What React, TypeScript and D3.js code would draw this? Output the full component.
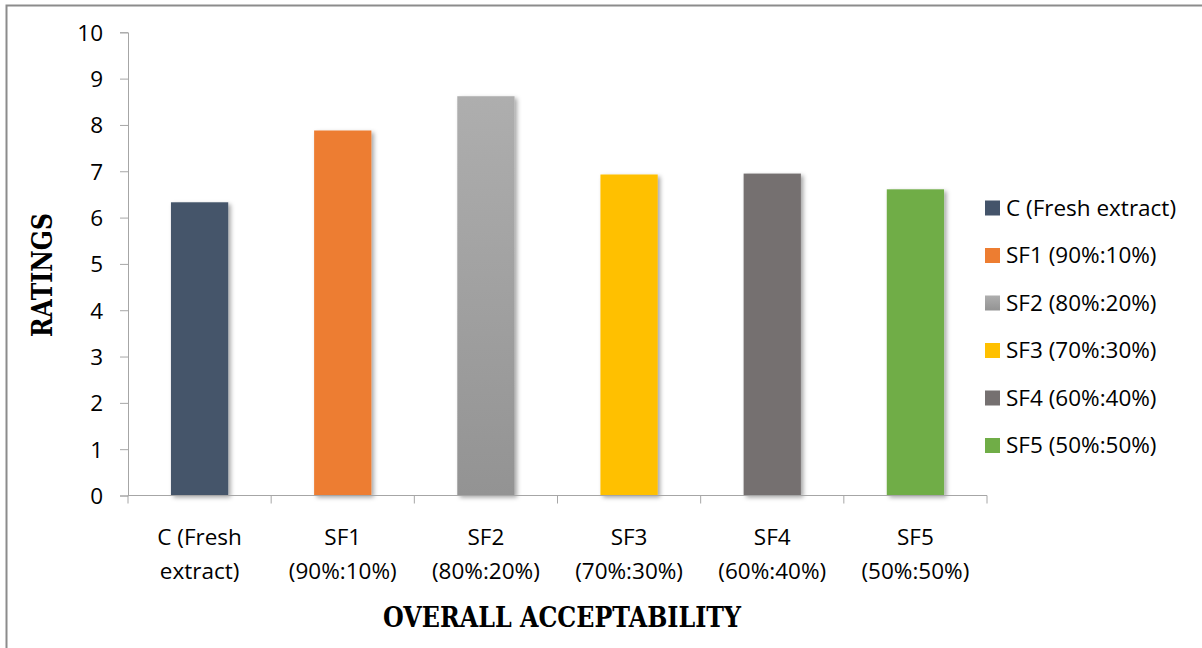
import React, { useEffect, useRef } from 'react';
import * as d3 from 'd3';

// chart data
const categories = ['C (Fresh extract)', 'SF1 (90%:10%)', 'SF2 (80%:20%)', 'SF3 (70%:30%)', 'SF4 (60%:40%)', 'SF5 (50%:50%)'];
const axisLabels = [['C (Fresh', 'extract)'], ['SF1', '(90%:10%)'], ['SF2', '(80%:20%)'], ['SF3', '(70%:30%)'], ['SF4', '(60%:40%)'], ['SF5', '(50%:50%)']];
const ratings = [6.33, 7.88, 8.62, 6.93, 6.95, 6.61];
const colors = ['#44546A', '#ED7D31', 'url(#gradSF2)', '#FFC000', '#757070', '#70AD47'];
const yTicks = [0, 1, 2, 3, 4, 5, 6, 7, 8, 9, 10];

const App = () => {
  const svgRef = useRef(null);

  useEffect(() => {
    const W = 1202, H = 648;
    const left = 128, right = 987, top = 32.3, bottom = 495.5;
    const font = "'Open Sans', sans-serif";

    const svg = d3.select(svgRef.current);
    svg.selectAll('*').remove();
    svg.attr('width', W).attr('height', H)
      .style('display', 'block').style('position', 'absolute').style('left', 0).style('top', 0);

    const defs = svg.append('defs');
    const grad = defs.append('linearGradient').attr('id', 'gradSF2')
      .attr('x1', 0).attr('y1', 0).attr('x2', 0).attr('y2', 1);
    grad.append('stop').attr('offset', '0%').attr('stop-color', '#AEAEAE');
    grad.append('stop').attr('offset', '100%').attr('stop-color', '#939393');

    const shadow = defs.append('filter').attr('id', 'shadow')
      .attr('x', '-20%').attr('y', '-10%').attr('width', '150%').attr('height', '130%');
    shadow.append('feDropShadow').attr('dx', 2.5).attr('dy', 2).attr('stdDeviation', 2)
      .attr('flood-color', '#000').attr('flood-opacity', 0.35);

    // background + outer frame
    svg.append('rect').attr('width', W).attr('height', H).attr('fill', '#fff');
    svg.append('rect')
      .attr('x', 6.5).attr('y', 5.5).attr('width', W + 20).attr('height', H + 20)
      .attr('fill', 'none').attr('stroke', '#8c8c8c').attr('stroke-width', 2);

    const x = d3.scaleBand().domain(categories).range([left, right]).paddingInner(0.6).paddingOuter(0.3);
    const xTicks = d3.scaleBand().domain(categories).range([left, right]);
    const y = d3.scaleLinear().domain([0, 10]).range([bottom, top]);

    // bars
    svg.append('g').selectAll('rect')
      .data(ratings)
      .join('rect')
      .attr('x', (d, i) => x(categories[i]))
      .attr('y', d => y(d))
      .attr('width', x.bandwidth())
      .attr('height', d => y(0) - y(d))
      .attr('fill', (d, i) => colors[i])
      .attr('filter', 'url(#shadow)');

    // y axis
    const yAxis = svg.append('g')
      .attr('transform', `translate(${left},0)`)
      .call(d3.axisLeft(y).tickValues(yTicks).tickSize(8).tickPadding(17).tickFormat(d3.format('d')));
    yAxis.select('.domain').attr('stroke', '#a6a6a6');
    yAxis.selectAll('.tick line').attr('stroke', '#a6a6a6');
    yAxis.selectAll('.tick text')
      .attr('font-family', font).attr('font-size', 22.5).attr('fill', '#000').attr('dy', '0.35em');

    // x axis with tick marks at band boundaries
    const xg = svg.append('g').attr('transform', `translate(0,${bottom})`);
    xg.append('line').attr('x1', left).attr('x2', right).attr('stroke', '#a6a6a6');
    const bounds = categories.map(c => xTicks(c)).concat([right]);
    xg.selectAll('.xt').data(bounds).join('line').attr('class', 'xt')
      .attr('x1', d => d).attr('x2', d => d).attr('y1', 0).attr('y2', 8)
      .attr('stroke', '#a6a6a6');

    const lbl = svg.append('g');
    categories.forEach((c, i) => {
      const cx = xTicks(c) + xTicks.bandwidth() / 2;
      const t = lbl.append('text').attr('text-anchor', 'middle')
        .attr('font-family', font).attr('font-size', 22.5).attr('fill', '#000');
      t.append('tspan').attr('x', cx).attr('y', 545).text(axisLabels[i][0]);
      t.append('tspan').attr('x', cx).attr('y', 579).text(axisLabels[i][1]);
    });

    // axis titles
    svg.append('text')
      .attr('x', 562).attr('y', 627).attr('text-anchor', 'middle')
      .attr('font-family', "'DejaVu Serif', serif").attr('font-weight', 'bold')
      .attr('font-size', 27).attr('textLength', 358).attr('lengthAdjust', 'spacingAndGlyphs')
      .text('OVERALL ACCEPTABILITY');

    svg.append('text')
      .attr('transform', 'translate(52,275) rotate(-90)')
      .attr('text-anchor', 'middle')
      .attr('font-family', "'DejaVu Serif', serif").attr('font-weight', 'bold')
      .attr('font-size', 27).attr('textLength', 124).attr('lengthAdjust', 'spacingAndGlyphs')
      .text('RATINGS');

    // legend
    const legend = svg.append('g').attr('transform', 'translate(985,208)');
    const rows = legend.selectAll('g').data(categories).join('g')
      .attr('transform', (d, i) => `translate(0,${i * 47.5})`);
    rows.append('rect').attr('x', 0).attr('y', -7.5).attr('width', 15).attr('height', 15)
      .attr('fill', (d, i) => colors[i]);
    rows.append('text').attr('x', 21).attr('dy', '0.35em')
      .attr('font-family', font).attr('font-size', 22.5).attr('fill', '#000')
      .text(d => d);
  }, []);

  return <svg ref={svgRef}></svg>;
};

export default App;
